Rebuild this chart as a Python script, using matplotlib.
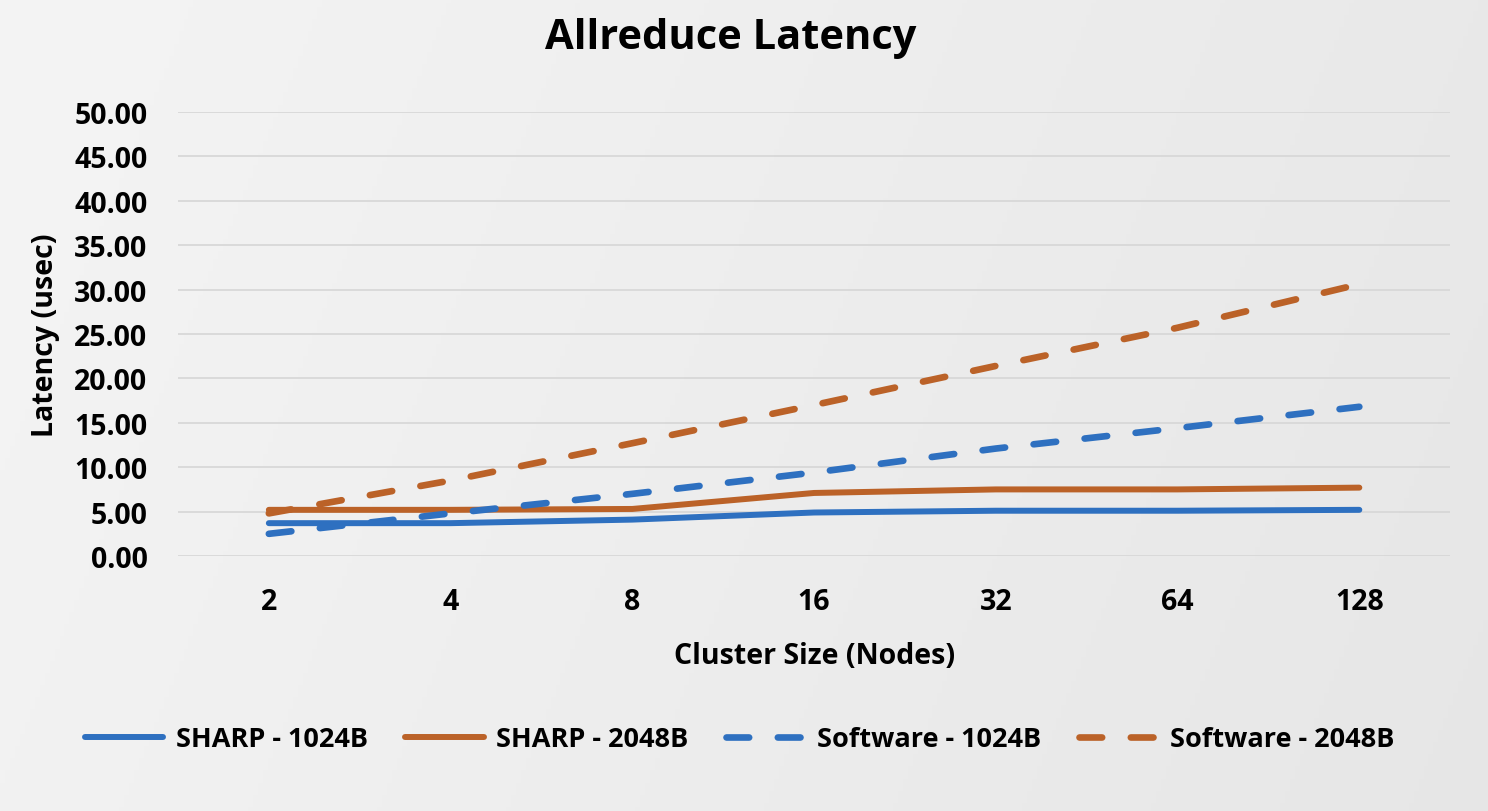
import matplotlib
matplotlib.use("Agg")
import matplotlib.pyplot as plt
import numpy as np
from matplotlib.ticker import FormatStrFormatter

plt.rcParams['font.family'] = ['Open Sans', 'DejaVu Sans']
plt.rcParams['font.weight'] = 'bold'

categories = ['2', '4', '8', '16', '32', '64', '128']
sharp_1024 = [3.7, 3.7, 4.1, 4.9, 5.1, 5.1, 5.2]
sharp_2048 = [5.2, 5.2, 5.3, 7.1, 7.5, 7.5, 7.7]
soft_1024 = [2.5, 4.8, 7.0, 9.4, 12.1, 14.4, 16.8]
soft_2048 = [4.8, 8.5, 12.7, 17.0, 21.4, 25.7, 30.6]

BLUE = '#2E70C0'
ORANGE = '#BB6228'

fig = plt.figure(figsize=(14.88, 8.12), dpi=100)

# background gradient
bg = fig.add_axes([0, 0, 1, 1], zorder=-10)
xx, yy = np.meshgrid(np.linspace(0, 1, 300), np.linspace(0, 1, 200))
grad = 0.955 - 0.045 * xx - 0.01 * yy
bg.imshow(grad, cmap='gray', vmin=0, vmax=1, aspect='auto', extent=[0, 1, 0, 1])
bg.axis('off')

ax = fig.add_axes([0.1196, 0.314, 0.855, 0.547])
ax.patch.set_alpha(0)
x = np.arange(len(categories))
lw = 4.3
dlw = 4.8
dash = (3.4, 4.3)
ax.plot(x, sharp_1024, color=BLUE, lw=lw, solid_capstyle='round', label='SHARP - 1024B', zorder=3)
ax.plot(x, sharp_2048, color=ORANGE, lw=lw, solid_capstyle='round', label='SHARP - 2048B', zorder=3)
ax.plot(x, soft_1024, color=BLUE, lw=dlw, dashes=dash, dash_capstyle='round', label='Software - 1024B', zorder=3)
ax.plot(x, soft_2048, color=ORANGE, lw=dlw, dashes=dash, dash_capstyle='round', label='Software - 2048B', zorder=3)

ax.set_xlim(-0.5, len(categories) - 0.5)
ax.set_ylim(0, 50)
ax.set_yticks(np.arange(0, 51, 5))
ax.yaxis.set_major_formatter(FormatStrFormatter('%.2f'))
ax.set_xticks(x)
ax.set_xticklabels(categories)
ax.grid(axis='y', color='#D6D6D6', lw=1.2, zorder=0)
for s in ax.spines.values():
    s.set_visible(False)
ax.tick_params(length=0, labelsize=20.5, pad=22)
ax.tick_params(axis='x', pad=22)
for t in ax.get_xticklabels() + ax.get_yticklabels():
    t.set_fontweight('bold')

ax.set_xlabel('Cluster Size (Nodes)', fontsize=20.5, fontweight='bold', labelpad=18)
ax.set_ylabel('Latency (usec)', fontsize=20.5, fontweight='bold', labelpad=10)
fig.suptitle('Allreduce Latency', fontsize=30, fontweight='bold', x=0.491, y=0.978)

leg = ax.legend(loc='center', ncol=4, frameon=False, fontsize=19.5, handlelength=2.9,
                handletextpad=0.45, columnspacing=1.4)
leg.set_bbox_to_anchor((0.497, 1 - 740 / 812), transform=fig.transFigure)
for t in leg.get_texts():
    t.set_fontweight('bold')

fig.savefig('out.png', dpi=100)
